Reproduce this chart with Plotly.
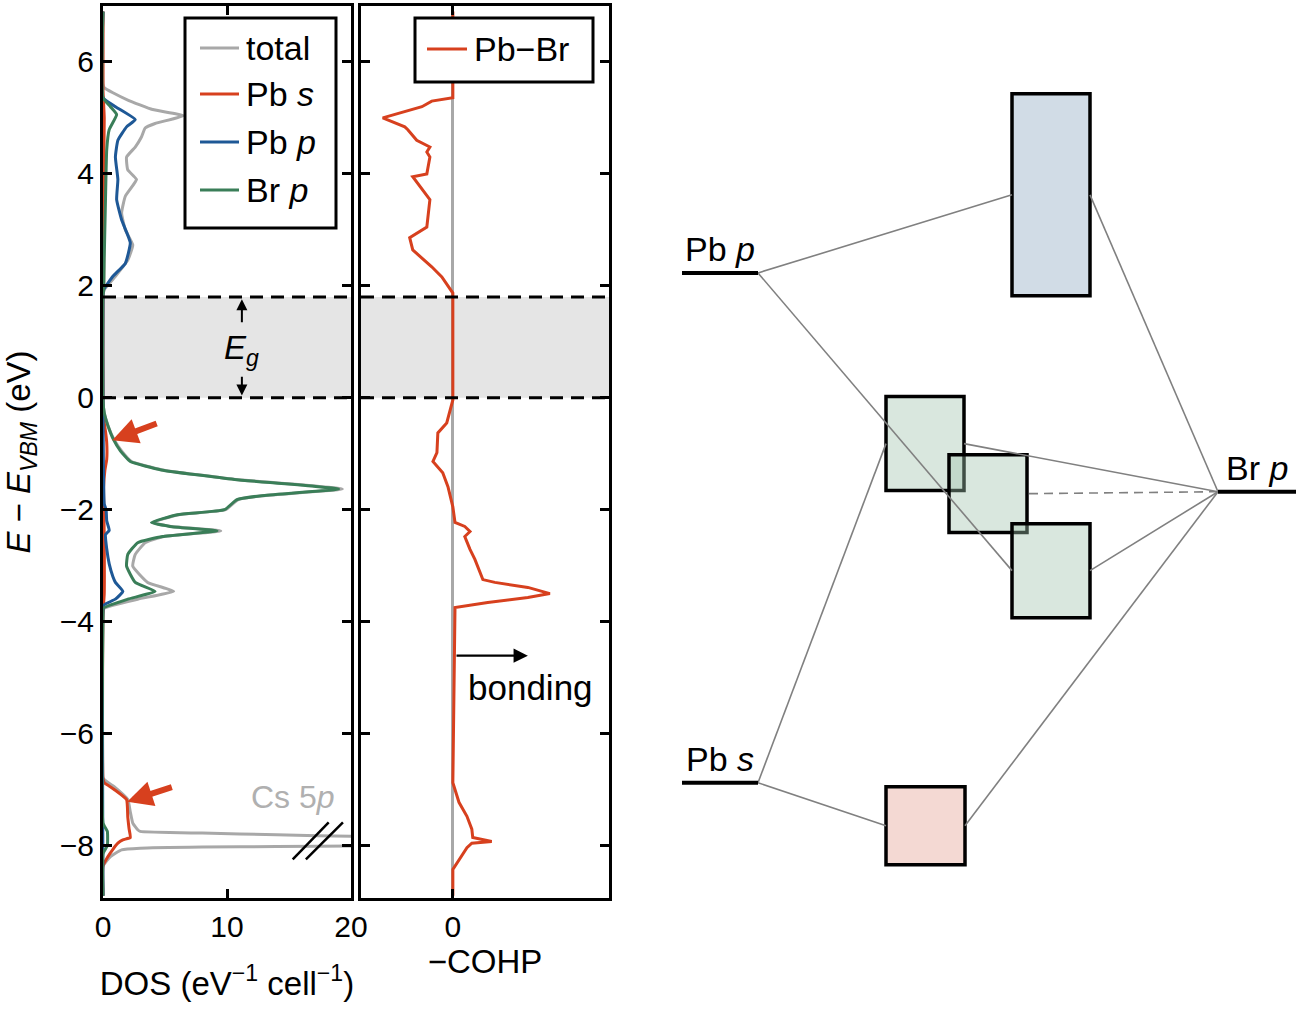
import plotly.graph_objects as go

# ---------------------------------------------------------------- data
# Density of states (E in eV, DOS in eV^-1 cell^-1)
total_E = [6.9, 5.6, 5.54, 5.45, 5.32, 5.15, 5.04, 4.9, 4.82, 4.66, 4.48, 4.3, 4.07, 3.9, 3.6, 3.3,
           3.0, 2.73, 2.46, 2.17, 1.93, 1.85,
           -0.05, -0.27, -0.5, -0.75, -0.95, -1.14, -1.29, -1.46, -1.63, -1.75, -1.82, -2.0, -2.09,
           -2.23, -2.3, -2.38, -2.48, -2.59, -2.8, -3.01, -3.3, -3.46, -3.6, -3.76, -3.85,
           -6.8, -6.95, -7.18, -7.4, -7.6, -7.72, -7.75, -7.78, -7.81, -7.84, -7.92, -8.01, -8.02,
           -8.03, -8.05, -8.08, -8.2, -8.37, -8.9]
total_dos = [0, 0, 0.1, 0.8, 2.0, 4.0, 6.5, 4.2, 3.4, 3.1, 2.6, 1.9, 2.0, 2.7, 1.8, 1.5,
             1.8, 2.4, 2.0, 1.0, 0.1, 0,
             0, 0.1, 0.4, 0.9, 1.5, 2.3, 4.8, 10.7, 19.3, 12.9, 10.9, 9.9, 6.1,
             4.0, 5.5, 9.5, 4.9, 3.4, 2.6, 2.4, 3.6, 5.7, 2.8, 0.1, 0,
             0, 0.9, 2.0, 2.2, 2.4, 2.8, 3.0, 8.0, 14.0, 20.5, 40.0, 20.5, 14.0,
             8.0, 3.0, 1.5, 0.6, 0, 0]

pbs_E = [6.9, 5.5, 5.0, 4.0, 3.0, 2.0, 1.85, -0.05, -0.3, -0.6, -0.8, -1.1, -1.3, -1.6, -2.5,
         -3.5, -3.85, -6.8, -6.88, -7.0, -7.18, -7.5, -7.7, -7.86, -7.9, -7.96, -8.07, -8.2,
         -8.37, -8.9]
pbs_dos = [0, 0, 0.1, 0.05, 0.05, 0.05, 0, 0, 0, 0.2, 0.3, 0.3, 0.15, 0.05, 0.1,
           0.1, 0, 0, 0.1, 0.9, 1.9, 2.0, 2.1, 2.2, 1.6, 1.2, 0.8, 0.4,
           0, 0]

pbp_E = [6.9, 5.36, 5.2, 4.97, 4.84, 4.6, 4.3, 3.9, 3.54, 3.18, 2.77, 2.4, 2.17, 1.93, 1.85,
         -0.05, -1.9, -2.0, -2.2, -2.37, -2.45, -2.7, -2.97, -3.2, -3.3, -3.46, -3.6, -3.7,
         -3.8, -8.9]
pbp_dos = [0, 0, 1.0, 2.6, 1.9, 1.2, 1.0, 1.2, 1.1, 1.5, 2.2, 1.8, 0.8, 0.05, 0,
           0, 0.1, 0.25, 0.3, 0.5, 0.2, 0.3, 0.5, 0.8, 1.0, 1.6, 1.0, 0.1,
           0, 0]

brp_E = [6.9, 5.36, 5.2, 5.06, 4.79, 4.43, 3.54, 2.5, 1.9, 1.85,
         -0.05, -0.27, -0.5, -0.75, -0.95, -1.14, -1.29, -1.46, -1.63, -1.75, -1.82, -2.0,
         -2.09, -2.23, -2.3, -2.38, -2.48, -2.59, -2.8, -3.01, -3.3, -3.46, -3.6, -3.76,
         -3.85, -7.6, -7.75, -8.0, -8.15, -8.9]
brp_dos = [0, 0, 0.6, 1.1, 0.5, 0.3, 0.2, 0.1, 0.05, 0,
           0, 0.1, 0.4, 0.85, 1.4, 2.2, 4.7, 10.6, 19.0, 12.8, 10.8, 9.8,
           6.0, 3.9, 5.4, 9.2, 4.8, 2.8, 2.0, 1.9, 2.6, 4.2, 2.0, 0,
           0, 0, 0.35, 0.35, 0, 0]

# Crystal orbital Hamilton population for Pb-Br (arbitrary units, -COHP)
cohp_E = [6.9, 5.36, 5.3, 5.2, 5.0, 4.84, 4.79, 4.6, 4.48, 4.39, 4.3, 4.0, 3.95, 3.66, 3.54,
          3.05, 2.86, 2.64, 2.34, 2.16, 1.87,
          -0.04, -0.45, -0.63, -0.98, -1.14, -1.34, -1.59, -1.95, -2.23, -2.3, -2.39, -2.48,
          -2.71, -2.89, -3.25, -3.3, -3.39, -3.5, -3.57, -3.66, -3.75,
          -6.88, -7.23, -7.48, -7.71, -7.86, -7.93, -7.96, -8.04, -8.3, -8.43, -8.9]
cohp_val = [0, 0, -0.69, -1.01, -2.29, -1.57, -1.47, -1.18, -0.75, -0.85, -0.75, -0.85, -1.31,
            -0.92, -0.75, -0.85, -1.41, -1.31, -0.69, -0.36, 0,
            0, -0.2, -0.49, -0.52, -0.65, -0.33, -0.16, 0, 0.07, 0.39, 0.56, 0.39,
            0.56, 0.72, 0.98, 1.37, 2.45, 3.17, 2.45, 1.14, 0.07,
            0, 0.2, 0.46, 0.62, 0.65, 1.27, 0.62, 0.46, 0.16, 0, 0]

E_TICKS = [-8, -6, -4, -2, 0, 2, 4, 6]
DOS_TICKS = [0, 10, 20]
COHP_TICKS = [0]
GAP = [0.0, 1.8]   # band gap, eV

# Molecular-orbital diagram: atomic levels and bands
level_names = ["Pb <i>p</i>", "Pb <i>s</i>", "Br <i>p</i>"]
level_x0 = [682, 682, 1218]
level_x1 = [758, 758, 1296]
level_E = [2.23, -6.88, -1.68]

band_names = ["CB", "VB1", "VB2", "VB3", "Pb s band"]
band_x0 = [1012, 886, 949, 1012, 886]
band_x1 = [1090, 964, 1027, 1090, 965]
band_Elo = [1.82, -1.66, -2.41, -3.93, -8.345]
band_Ehi = [5.43, 0.02, -1.02, -2.25, -6.95]
band_fill = ["rgb(209,220,230)", "rgba(160,196,172,0.40)", "rgba(160,196,172,0.40)",
             "rgba(160,196,172,0.40)", "rgb(244,217,211)"]
# connections: (level index, band index, side of band)
links = [(0, 0, "left"), (0, 3, "left"), (2, 0, "right"), (2, 1, "right"),
         (2, 2, "right"), (2, 3, "right"), (2, 4, "right"), (1, 1, "left"), (1, 4, "left")]
link_dashed = [False, False, False, False, True, False, False, False, False]

# ---------------------------------------------------------------- layout helpers
FONT = "Liberation Sans, Arial, Helvetica, sans-serif"
W, H = 1299, 1009
ML, MR, MT, MB = 103, 0, 6, 111
PW, PH = W - ML - MR, H - MT - MB


def px(x):
    return (x - ML) / PW


def py(y):
    return (H - MB - y) / PH


E_RANGE = [-8.94, 7.0]
D1 = [px(103), px(351)]
D2 = [px(361), px(609)]
D3 = [px(615), 1.0]

GRAY = "rgb(168,168,168)"
RED = "rgb(215,64,30)"
BLUE = "rgb(30,88,150)"
GREEN = "rgb(58,126,88)"

fig = go.Figure()

series = [("total", total_E, total_dos, GRAY),
          ("Pb s", pbs_E, pbs_dos, RED),
          ("Pb p", pbp_E, pbp_dos, BLUE),
          ("Br p", brp_E, brp_dos, GREEN)]
for name, E, d, c in series:
    fig.add_trace(go.Scatter(x=d, y=E, mode="lines", name=name,
                             line=dict(color=c, width=3, shape="spline", smoothing=0.4),
                             xaxis="x", yaxis="y", showlegend=False))

fig.add_trace(go.Scatter(x=cohp_val, y=cohp_E, mode="lines", name="Pb−Br",
                         line=dict(color=RED, width=3), xaxis="x2", yaxis="y2",
                         showlegend=False))

# MO diagram connections
for (li, bi, side), dashed in zip(links, link_dashed):
    bx = band_x0[bi] if side == "left" else band_x1[bi]
    lx = level_x1[li] if level_x0[li] < bx else level_x0[li]
    bE = (band_Elo[bi] + band_Ehi[bi]) / 2
    fig.add_trace(go.Scatter(x=[lx, bx], y=[level_E[li], bE], mode="lines",
                             line=dict(color="rgb(128,128,128)", width=1.6,
                                       dash="9px,6px" if dashed else "solid"),
                             xaxis="x3", yaxis="y3", showlegend=False, hoverinfo="skip"))
# atomic levels
for name, x0, x1, e in zip(level_names, level_x0, level_x1, level_E):
    fig.add_trace(go.Scatter(x=[x0, x1], y=[e, e], mode="lines", name=name,
                             line=dict(color="black", width=4),
                             xaxis="x3", yaxis="y3", showlegend=False))

shapes = []
annotations = []


def arrow(tip, tail, xr, yr, color, width, size):
    annotations.append(dict(x=tip[0], y=tip[1], ax=tail[0], ay=tail[1], xref=xr, yref=yr,
                            axref=xr, ayref=yr, text="", showarrow=True, arrowhead=2,
                            arrowsize=size, arrowwidth=width, arrowcolor=color, standoff=0))


# E_g arrows
arrow((11.2, 1.76), (11.2, 1.32), "x", "y", "black", 2, 1.1)
arrow((11.2, 0.04), (11.2, 0.40), "x", "y", "black", 2, 1.1)
# red arrows pointing at Pb s contributions
arrow((0.75, -0.76), (4.45, -0.45), "x", "y", RED, 6, 0.85)
arrow((1.95, -7.22), (5.67, -6.95), "x", "y", RED, 6, 0.85)
# bonding direction arrow
arrow((2.45, -4.61), (0.07, -4.61), "x2", "y2", "black", 2.2, 1.3)

# band gap shading & dashed edges
for xr in ("x domain", "x2 domain"):
    shapes.append(dict(type="rect", xref=xr, yref="y", x0=0, x1=1, y0=GAP[0], y1=GAP[1],
                       fillcolor="rgb(229,229,229)", line=dict(width=0), layer="below"))
    for g in GAP:
        shapes.append(dict(type="line", xref=xr, yref="y", x0=0, x1=1, y0=g, y1=g,
                           line=dict(color="black", width=3, dash="13px,8px"), layer="above"))

# bands (boxes)
for x0, x1, lo, hi, fc in zip(band_x0, band_x1, band_Elo, band_Ehi, band_fill):
    shapes.append(dict(type="rect", xref="x3", yref="y3", x0=x0, x1=x1, y0=lo, y1=hi,
                       fillcolor=fc, line=dict(color="black", width=3.5), layer="below"))

# level labels
for name, x0, x1, e in zip(level_names, level_x0, level_x1, level_E):
    annotations.append(dict(x=(x0 + x1) / 2, y=e, xref="x3", yref="y3", text=name,
                            showarrow=False, yanchor="bottom", yshift=3,
                            font=dict(size=34, color="black", family=FONT)))

# broken-axis marks on DOS panel
for xa, xb in ((15.3, 18.2), (16.36, 19.35)):
    shapes.append(dict(type="line", xref="x", yref="y", x0=xa, x1=xb, y0=-8.25, y1=-7.59,
                       line=dict(color="black", width=2.5), layer="above"))


# manual legends
def legend_box(x0, x1, y0, y1):
    shapes.append(dict(type="rect", xref="paper", yref="paper", x0=px(x0), x1=px(x1),
                       y0=py(y1), y1=py(y0), fillcolor="white",
                       line=dict(color="black", width=3), layer="above"))


def legend_item(xl0, xl1, xt, yc, color, text):
    shapes.append(dict(type="line", xref="paper", yref="paper", x0=px(xl0), x1=px(xl1),
                       y0=py(yc), y1=py(yc), line=dict(color=color, width=3), layer="above"))
    annotations.append(dict(x=px(xt), y=py(yc), xref="paper", yref="paper", text=text,
                            showarrow=False, xanchor="left", yanchor="middle",
                            font=dict(size=34, color="black", family=FONT)))


legend_box(185, 336, 18, 228)
for (nm, _, _, c), yc in zip(series, [48, 94, 142, 190]):
    label = nm.replace(" s", " <i>s</i>").replace(" p", " <i>p</i>")
    legend_item(200, 239, 244, yc, c, label)
legend_box(415, 593, 18, 82)
legend_item(427, 467, 472, 49, RED, "Pb−Br")

# E_g label
annotations.append(dict(x=11.2, y=0.86, xref="x", yref="y",
                        text="<i>E</i><sub><i>g</i></sub>", showarrow=False,
                        font=dict(size=33, color="black", family=FONT)))

# Cs 5p label
annotations.append(dict(x=15.3, y=-7.13, xref="x", yref="y", text="Cs 5<i>p</i>",
                        showarrow=False, font=dict(size=32, color="rgb(176,176,176)", family=FONT)))

# bonding label
annotations.append(dict(x=2.52, y=-5.18, xref="x2", yref="y2", text="bonding",
                        showarrow=False, font=dict(size=35, color="black", family=FONT)))

axis_common = dict(showline=True, linecolor="black", linewidth=3, mirror="ticks",
                   ticks="inside", ticklen=9, tickwidth=3, tickcolor="black",
                   showgrid=False, zeroline=False, automargin=False,
                   tickfont=dict(size=30, color="black", family=FONT))

fig.update_layout(
    width=W, height=H, autosize=False,
    margin=dict(l=ML, r=MR, t=MT, b=MB, autoexpand=False),
    paper_bgcolor="white", plot_bgcolor="white",
    font=dict(family=FONT, color="black"),
    showlegend=False,
    xaxis=dict(axis_common, domain=D1, range=[0, 20], tickvals=DOS_TICKS, anchor="y",
               title=dict(text="DOS (eV<sup>−1</sup> cell<sup>−1</sup>)",
                          font=dict(size=33, family=FONT), standoff=30)),
    yaxis=dict(axis_common, domain=[0, 1], range=E_RANGE, tickvals=E_TICKS, anchor="x",
               title=dict(text="<i>E</i> − <i>E</i><sub><i>VBM</i></sub> (eV)",
                          font=dict(size=33, family=FONT), standoff=24)),
    xaxis2=dict(axis_common, domain=D2, range=[-3, 5.1], tickvals=COHP_TICKS, anchor="y2",
                zeroline=True, zerolinecolor="rgb(168,168,168)", zerolinewidth=3,
                title=dict(text="−COHP", font=dict(size=33, family=FONT), standoff=8)),
    yaxis2=dict(axis_common, domain=[0, 1], range=E_RANGE, tickvals=E_TICKS, anchor="x2",
                showticklabels=False),
    xaxis3=dict(domain=D3, range=[615, 1299], visible=False, anchor="y3", automargin=False),
    yaxis3=dict(domain=[0, 1], range=E_RANGE, visible=False, anchor="x3", automargin=False),
    shapes=shapes,
    annotations=annotations,
)

POST = (
    "document.documentElement.style.overflow='hidden';"
    "document.body.style.margin='0px';"
    "document.body.style.overflow='hidden';"
)

fig.write_html("out.html", config={"displayModeBar": False}, post_script=POST)
